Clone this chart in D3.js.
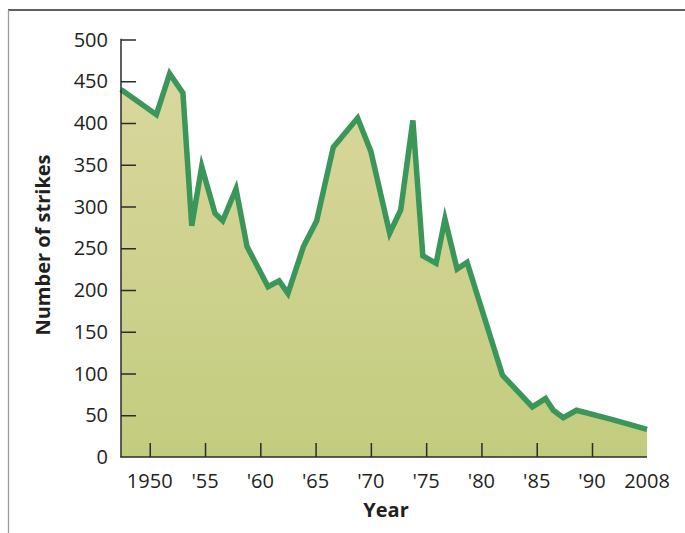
<!DOCTYPE html>
<html>
<head>
<meta charset="utf-8">
<script src="https://cdn.jsdelivr.net/npm/d3@7"></script>
<style>
  html, body { margin: 0; padding: 0; background: #fff; }
  svg { display: block; }
  text { font-family: "Open Sans", "Noto Sans", sans-serif; fill: #231f20; }
</style>
</head>
<body>
<script>
// Data
const years   = [1947.4, 1950.6, 1951.8, 1953.0, 1953.8, 1954.7, 1955.9, 1956.6, 1957.8, 1958.8,
                 1960.7, 1961.7, 1962.5, 1963.9, 1965.1, 1966.6, 1968.8, 1970.0, 1971.7, 1972.7,
                 1973.8, 1974.7, 1975.9, 1976.7, 1977.8, 1978.7, 1981.9, 1984.6, 1985.8, 1986.5,
                 1987.4, 1988.6, 1996.4, 2008];
const strikes = [440, 410, 459, 436, 277, 348, 292, 283, 321, 252,
                 204, 211, 196, 252, 283, 371, 406, 366, 268, 296,
                 403, 241, 232, 285, 225, 233, 98, 60, 70, 56,
                 47, 56, 45, 33];
const xTicks = [1950, 1955, 1960, 1965, 1970, 1975, 1980, 1985, 1990, 2008];
const xTickLabels = ["1950", "'55", "'60", "'65", "'70", "'75", "'80", "'85", "'90", "2008"];
const yTicks = [0, 50, 100, 150, 200, 250, 300, 350, 400, 450, 500];
const xTitle = "Year";
const yTitle = "Number of strikes";

const W = 685, H = 533;
const svg = d3.select("body").append("svg").attr("width", W).attr("height", H);

// frame
svg.append("line").attr("x1", 8).attr("x2", W).attr("y1", 10).attr("y2", 10)
  .attr("stroke", "#2b2b2b").attr("stroke-width", 1.6);
svg.append("line").attr("x1", 8.5).attr("x2", 8.5).attr("y1", 10).attr("y2", H)
  .attr("stroke", "#9a9a9a").attr("stroke-width", 1.3);

const x = d3.scaleLinear().domain([1947.4, 1990, 2008]).range([121, 592, 647]);
const y = d3.scaleLinear().domain([0, 500]).range([457, 39.5]);

const data = years.map((yr, i) => ({ yr, v: strikes[i] }));

const defs = svg.append("defs");
const grad = defs.append("linearGradient").attr("id", "fillGrad")
  .attr("gradientUnits", "userSpaceOnUse")
  .attr("x1", 0).attr("y1", y(500)).attr("x2", 0).attr("y2", y(0));
grad.append("stop").attr("offset", "0%").attr("stop-color", "#dcd8a1");
grad.append("stop").attr("offset", "100%").attr("stop-color", "#c2cc7e");

const area = d3.area().x(d => x(d.yr)).y0(y(0)).y1(d => y(d.v));
svg.append("path").datum(data).attr("d", area).attr("fill", "url(#fillGrad)");

const line = d3.line().x(d => x(d.yr)).y(d => y(d.v));
svg.append("path").datum(data).attr("d", line)
  .attr("fill", "none").attr("stroke", "#3b9659").attr("stroke-width", 5.5)
  .attr("stroke-linejoin", "miter").attr("stroke-miterlimit", 6);

// y axis
const yAxis = d3.axisRight(y).tickValues(yTicks.filter(t => t > 0)).tickSize(15).tickFormat("");
const gy = svg.append("g").attr("transform", `translate(${x.range()[0]},0)`).call(yAxis);
gy.select(".domain").remove();
gy.selectAll(".tick line").attr("stroke", "#2b2b2b").attr("stroke-width", 1.5);
svg.append("line").attr("x1", 121).attr("x2", 121).attr("y1", y(500) - 0.75).attr("y2", y(0))
  .attr("stroke", "#2b2b2b").attr("stroke-width", 1.5);
svg.selectAll(".ylab").data(yTicks).join("text").attr("class", "ylab")
  .attr("x", 108).attr("y", d => y(d)).attr("dy", "0.36em")
  .attr("text-anchor", "end").attr("font-size", 20).text(d => d);

// x axis
const xAxis = d3.axisTop(x).tickValues(xTicks.filter(t => t < 2008)).tickSize(14).tickFormat("");
const gx = svg.append("g").attr("transform", `translate(0,${y(0)})`).call(xAxis);
gx.select(".domain").remove();
gx.selectAll(".tick line").attr("stroke", "#2b2b2b").attr("stroke-width", 1.5);
svg.append("line").attr("x1", 120.25).attr("x2", 647).attr("y1", y(0)).attr("y2", y(0))
  .attr("stroke", "#2b2b2b").attr("stroke-width", 1.5);
svg.selectAll(".xlab").data(xTicks).join("text").attr("class", "xlab")
  .attr("x", d => x(d)).attr("y", 488)
  .attr("text-anchor", "middle").attr("font-size", 20).text((d, i) => xTickLabels[i]);

svg.append("text").attr("x", 386).attr("y", 517).attr("text-anchor", "middle")
  .attr("font-size", 20).attr("font-weight", "bold").text(xTitle);
svg.append("text").attr("transform", "translate(50,245) rotate(-90)")
  .attr("text-anchor", "middle").attr("font-size", 20).attr("font-weight", "bold").text(yTitle);
</script>
</body>
</html>
